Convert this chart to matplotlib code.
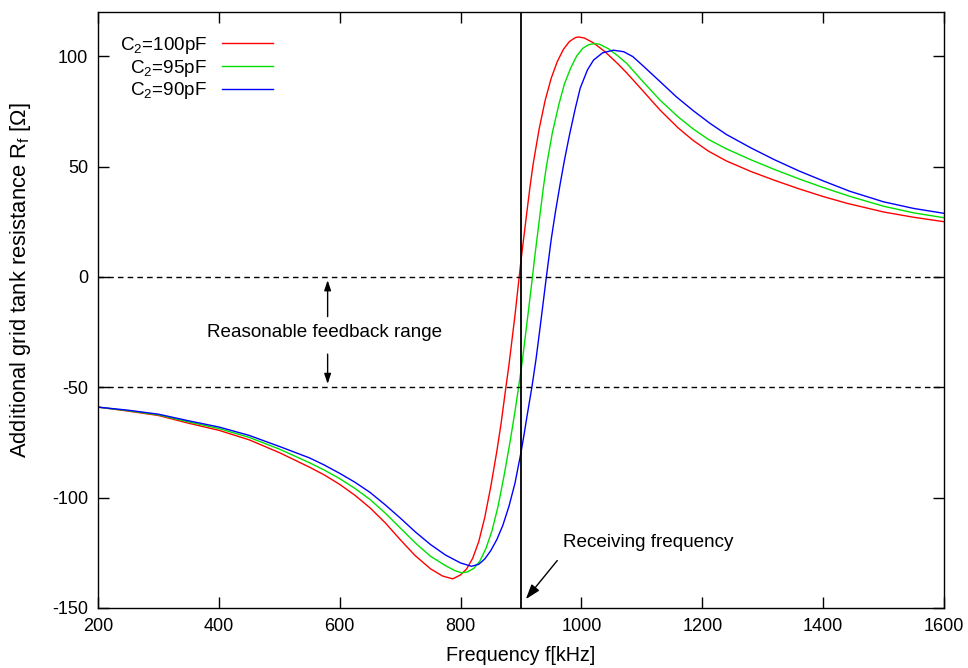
import matplotlib
matplotlib.use("Agg")
import matplotlib.pyplot as plt

plt.rcParams['font.family'] = ['Liberation Sans', 'DejaVu Sans']
plt.rcParams['mathtext.fontset'] = 'custom'
plt.rcParams['mathtext.rm'] = 'Liberation Sans'
plt.rcParams['mathtext.it'] = 'Liberation Sans'
plt.rcParams['mathtext.default'] = 'regular'
plt.rcParams['axes.unicode_minus'] = False

# ---- data ----
freq_100 = [200, 250, 300, 350, 400, 450, 500, 550, 575, 600, 625, 650, 675, 700, 725, 750, 770, 787, 800, 810,
            820, 830, 840, 850, 860, 867, 875, 880, 890, 897, 900, 910, 915, 920, 930, 940, 950, 960, 970, 980,
            990, 995, 1005, 1020, 1039, 1060, 1075, 1100, 1130, 1160, 1185, 1210, 1240, 1280, 1320, 1360, 1400,
            1440, 1500, 1550, 1600]
rf_100 = [-59, -60.8, -62.8, -66.3, -69.5, -73.8, -79.6, -86.2, -89.8, -94, -98.9, -104.6, -111.3, -119, -126.3,
          -132.2, -135.5, -136.8, -135, -132.3, -127.5, -120, -109, -95, -79, -66.5, -50, -40, -17.5, 0, 7.5, 30,
          41, 51, 67, 80, 90, 97.5, 103, 106.6, 108.4, 108.7, 108.2, 106.0, 102.0, 96.6, 92.4, 84.8, 75.6, 67.5,
          61.8, 57.0, 52.5, 47.8, 43.7, 39.9, 36.4, 33.3, 29.4, 27.0, 25.0]

freq_95 = [200, 250, 300, 350, 400, 450, 500, 550, 575, 600, 625, 650, 675, 700, 725, 750, 775, 790, 802, 812,
           822, 832, 842, 852, 862, 872, 882, 890, 896, 902, 912, 919, 922, 932, 937, 942, 952, 963, 972, 982,
           992, 1002, 1012, 1022, 1030, 1045, 1060, 1075, 1100, 1130, 1160, 1185, 1210, 1240, 1280, 1320, 1360,
           1400, 1444, 1500, 1550, 1600]
rf_95 = [-59, -60.6, -62.5, -65.7, -68.7, -72.7, -78, -84.2, -87.6, -91.4, -95.8, -100.8, -106.9, -113.7, -120.5,
         -126.5, -130.8, -133, -134.1, -133.6, -132, -128.7, -123, -115, -104, -90, -74.5, -61, -50, -38.5, -16,
         0, 7.5, 29.5, 40.5, 50, 65.5, 78.5, 87.5, 94.5, 100, 103.5, 105.2, 105.7, 105.4, 103.3, 100.2, 96.7, 89,
         80.1, 72.5, 67, 62.3, 58.0, 53.1, 48.6, 44.4, 40.5, 36.5, 32.0, 29.0, 26.8]

freq_90 = [200, 250, 300, 350, 400, 450, 500, 550, 575, 600, 625, 650, 675, 700, 725, 750, 775, 800, 818, 830,
           840, 850, 860, 870, 880, 890, 900, 905, 910, 918, 925, 932, 942, 950, 957, 965, 972, 980, 990, 998,
           1010, 1020, 1035, 1053, 1070, 1085, 1102, 1130, 1157, 1185, 1213, 1240, 1280, 1320, 1360, 1400, 1444,
           1500, 1550, 1600]
rf_90 = [-59, -60.4, -62.2, -65.2, -68, -71.8, -76.8, -82, -85.3, -89, -93, -97.6, -103.2, -109.2, -115.5, -121.2,
         -126, -129.6, -131.1, -130.2, -127.8, -124, -119, -112.5, -104, -93.5, -79.5, -71.5, -63, -50, -37, -22,
         0, 17, 29.5, 42.4, 53, 64, 76.5, 85.5, 93.8, 98.2, 101.5, 102.7, 102.0, 99.8, 95.6, 88.5, 81.6, 75.3,
         69.5, 64.5, 58.5, 53, 48, 43.5, 38.8, 34.0, 31.0, 28.8]

series_labels = ['C$_2$=100pF', 'C$_2$=95pF', 'C$_2$=90pF']
series_colors = ['#ff0000', '#00e000', '#0000ff']

x_ticks = [200, 400, 600, 800, 1000, 1200, 1400, 1600]
y_ticks = [-150, -100, -50, 0, 50, 100]
receiving_freq = 900
feedback_limits = [0, -50]

# ---- figure ----
fig = plt.figure(figsize=(9.68, 6.68), dpi=100)
ax = fig.add_axes([98 / 968, 60 / 668, 846 / 968, 596 / 668])

for fx, fy, lab, col in zip([freq_100, freq_95, freq_90], [rf_100, rf_95, rf_90], series_labels, series_colors):
    ax.plot(fx, fy, color=col, lw=1.0, label=lab)

for yl in feedback_limits:
    ax.axhline(yl, color='black', lw=1.0, ls=(0, (4, 3)))
ax.axvline(receiving_freq, color='black', lw=1.3)

ax.set_xlim(200, 1600)
ax.set_ylim(-150, 120)
ax.set_xticks(x_ticks)
ax.set_yticks(y_ticks)
ax.tick_params(direction='in', top=True, right=True, length=8, width=1, labelsize=13, pad=7)
for s in ax.spines.values():
    s.set_linewidth(1.0)

ax.set_xlabel('Frequency f[kHz]', fontsize=14.2, labelpad=8)
ax.set_ylabel('Additional grid tank resistance R$_f$ [\u03a9]', fontsize=15.8)
ax.yaxis.set_label_coords(-0.077, 0.55)

# feedback range annotation
ax.text(575, -25, 'Reasonable feedback range', fontsize=13.6, ha='center', va='center')
arrow_kw = dict(arrowstyle='-|>,head_length=0.6,head_width=0.2', color='black', lw=1.0, shrinkA=0, shrinkB=0)
ax.annotate('', xy=(580, -1.5), xytext=(580, -18), arrowprops=arrow_kw)
ax.annotate('', xy=(580, -48.5), xytext=(580, -35), arrowprops=arrow_kw)

# receiving frequency annotation
ax.text(970, -120.5, 'Receiving frequency', fontsize=13.6, ha='left', va='center')
ax.annotate('', xy=(908, -146), xytext=(960, -128.5),
            arrowprops=dict(arrowstyle='-|>,head_length=0.9,head_width=0.3', color='black', lw=1.0,
                            shrinkA=0, shrinkB=0))

ax.legend(loc='upper left', bbox_to_anchor=(0.026, 0.962), frameon=False, markerfirst=False,
          fontsize=13.6, handlelength=2.7, handletextpad=0.8, labelspacing=0.1, borderaxespad=0,
          borderpad=0)

fig.savefig('out.png', dpi=100)
